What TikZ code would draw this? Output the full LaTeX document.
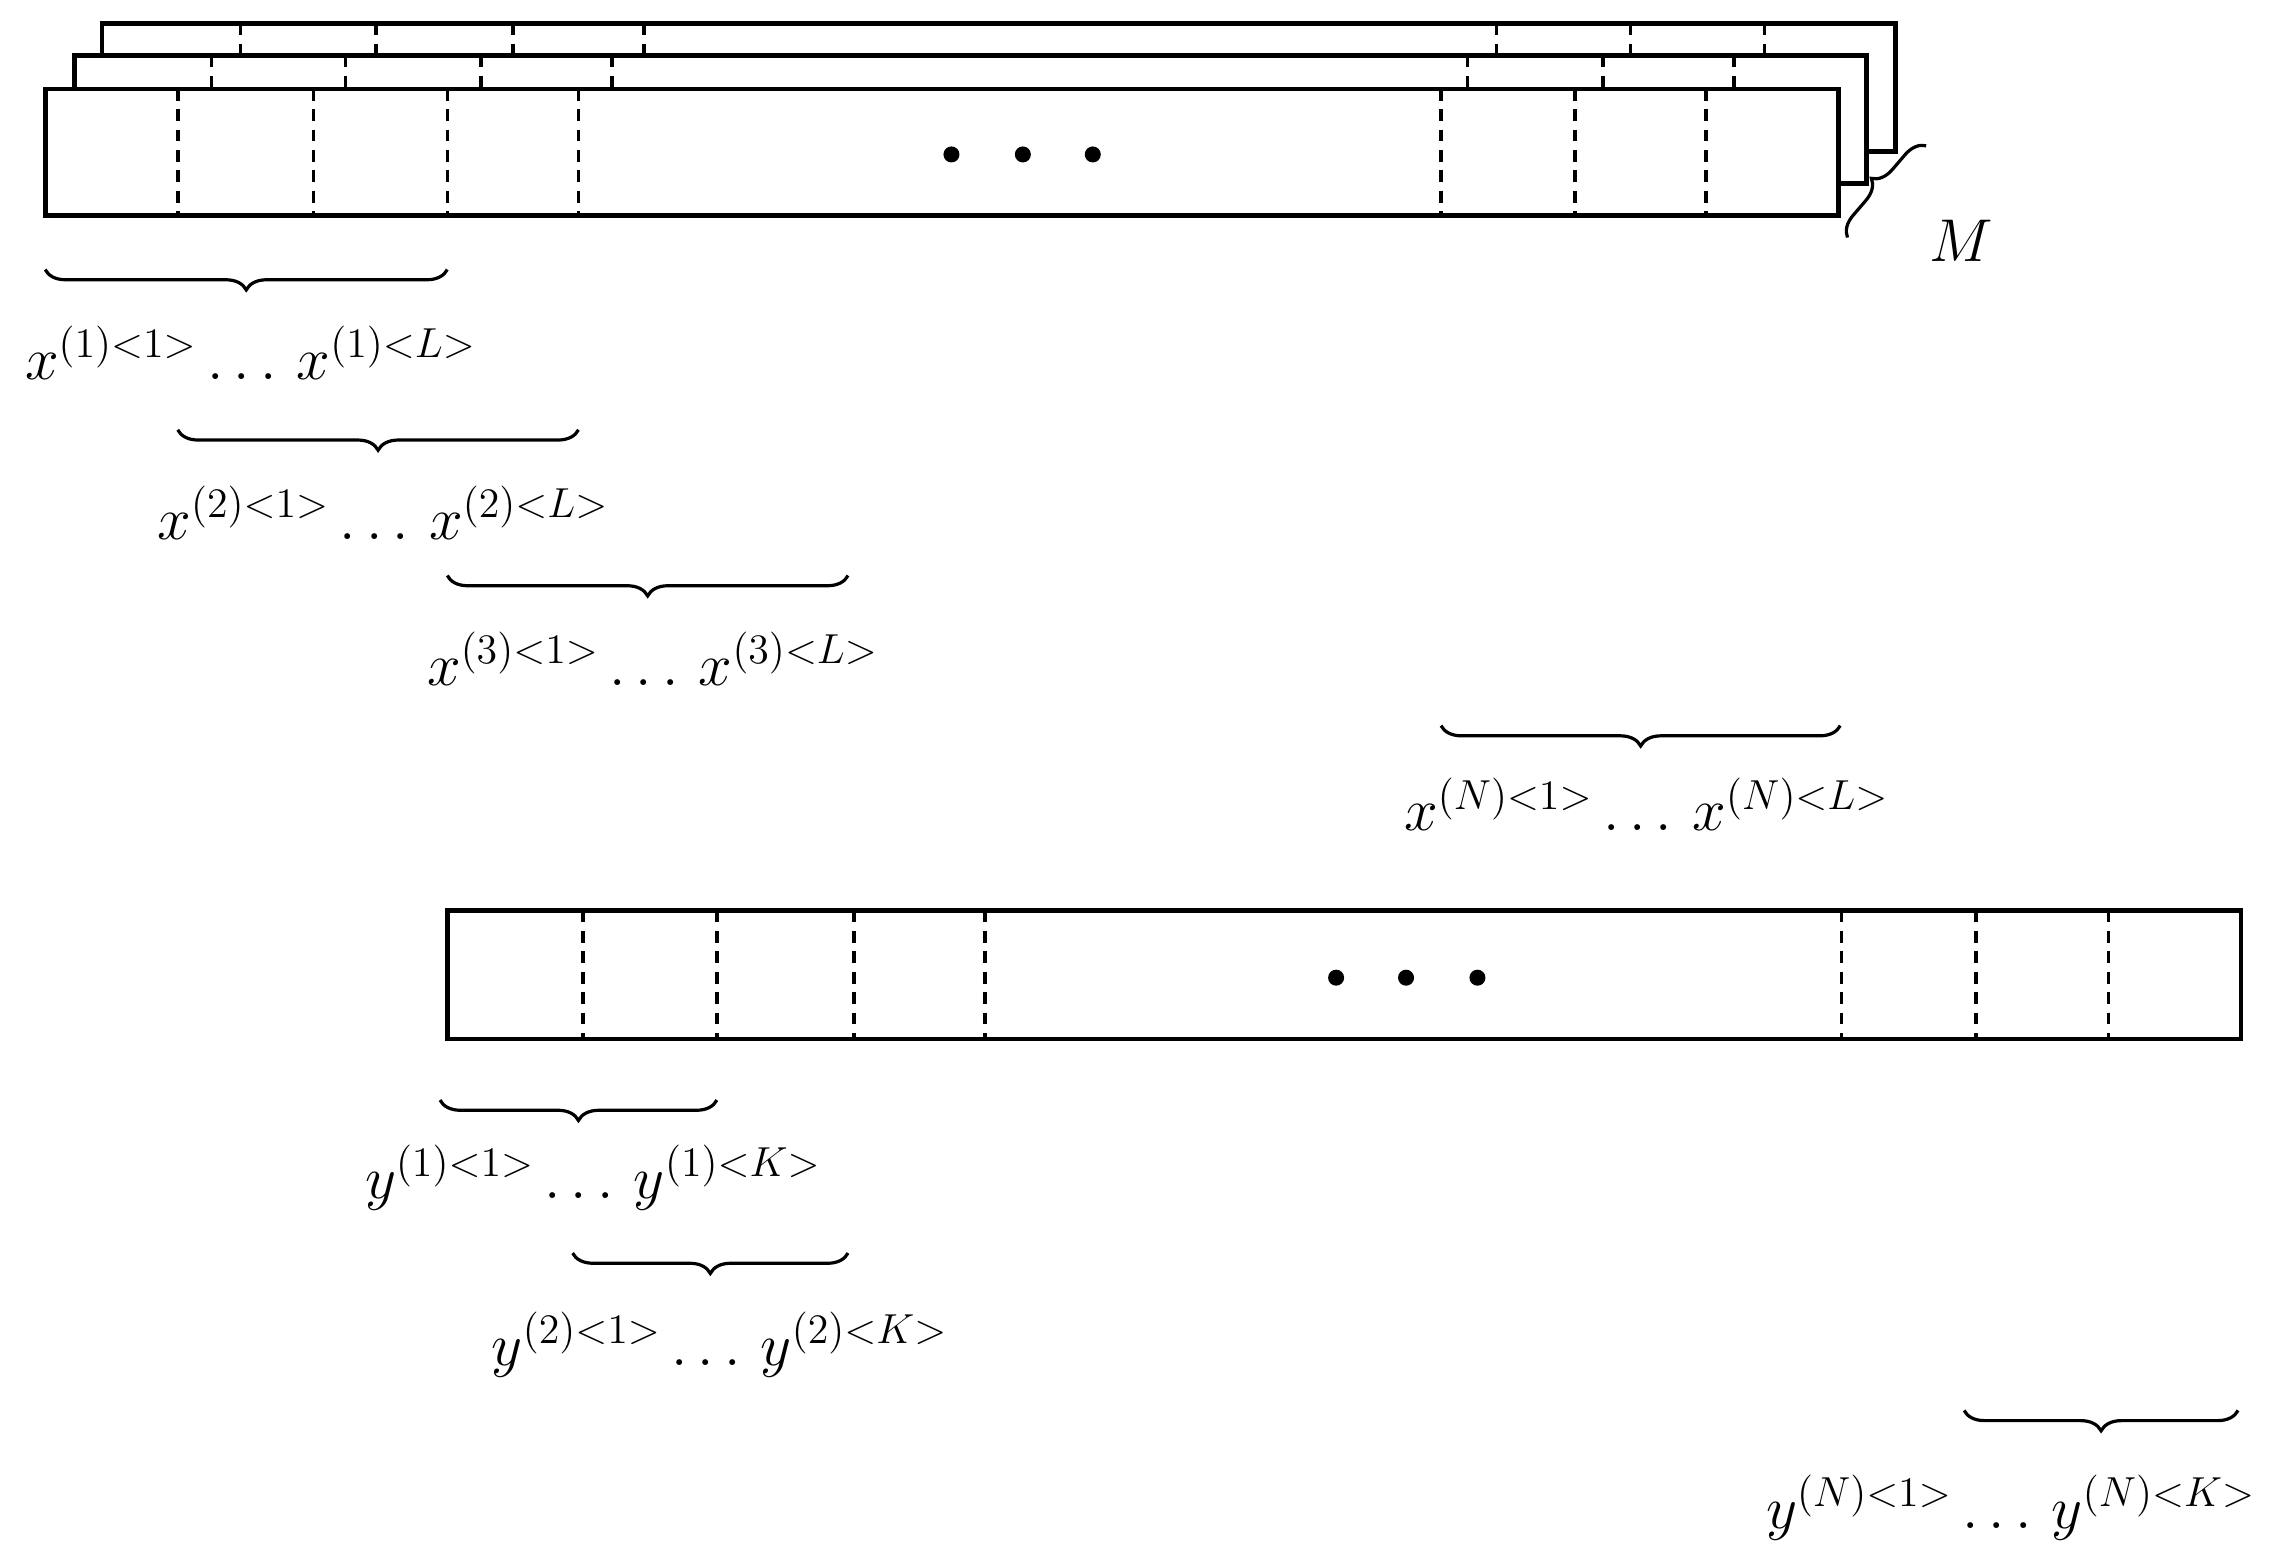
\documentclass[tikz,border=0pt]{standalone}
\usetikzlibrary{decorations.pathreplacing}
\begin{document}
\begin{tikzpicture}[x=0.5pt,y=-0.5pt,
  box/.style={line width=1.6pt,fill=white},
  sep/.style={line width=1.2pt,dash pattern=on 4pt off 3pt},
  br/.style={line width=1.1pt,decorate,decoration={brace,mirror,amplitude=7pt,raise=0pt}},
  lab/.style={font=\fontsize{21}{25}\selectfont,inner sep=0pt},
  dot/.style={fill=black,circle,inner sep=0pt,minimum size=5.5pt}]
\useasboundingbox (0,0) rectangle (1560,1075);
% stacked layers
\draw[box] (70,16) rectangle (1301,104);
\foreach \x in {165,258,352,442,1027,1119,1211} \draw[sep] (\x,16) -- (\x,38);
\draw[box] (51,38) rectangle (1281,126);
\foreach \x in {145,237,330,420,1007,1100,1190} \draw[sep] (\x,38) -- (\x,61);
\draw[box] (31,61) rectangle (1262,148);
\foreach \x in {122,215,307,397,989,1081,1171} \draw[sep] (\x,61) -- (\x,148);
\foreach \x in {653,702,750} \node[dot] at (\x,106) {};
\draw[br,decoration={mirror=false}] (1268,163) -- (1322,100);
\node[lab] (M) at (1346,165) {$M$};
% x braces
\draw[br] (31,185) -- (307,185);
\node[lab] (x1) at (172,242) {$x^{(1)<1>}\ldots\,x^{(1)<L>}$};
\draw[br] (122,295) -- (397,295);
\node[lab] (x2) at (263,352) {$x^{(2)<1>}\ldots\,x^{(2)<L>}$};
\draw[br] (307,395) -- (582,395);
\node[lab] (x3) at (448,452) {$x^{(3)<1>}\ldots\,x^{(3)<L>}$};
\draw[br] (989,498) -- (1263,498);
\node[lab] (xN) at (1130,552) {$x^{(N)<1>}\ldots\,x^{(N)<L>}$};
% output
\draw[box] (307,625) rectangle (1538,713);
\foreach \x in {400,492,586,676,1264,1356,1447} \draw[sep] (\x,625) -- (\x,713);
\foreach \x in {917,965,1014} \node[dot] at (\x,671) {};
\draw[br] (302,755) -- (492,755);
\node[lab] (y1) at (407,808) {$y^{(1)<1>}\ldots\,y^{(1)<K>}$};
\draw[br] (393,860) -- (582,860);
\node[lab] (y2) at (494,923) {$y^{(2)<1>}\ldots\,y^{(2)<K>}$};
\draw[br] (1348,968) -- (1536,968);
\node[lab] (yN) at (1380,1035) {$y^{(N)<1>}\ldots\,y^{(N)<K>}$};
\end{tikzpicture}
\end{document}
